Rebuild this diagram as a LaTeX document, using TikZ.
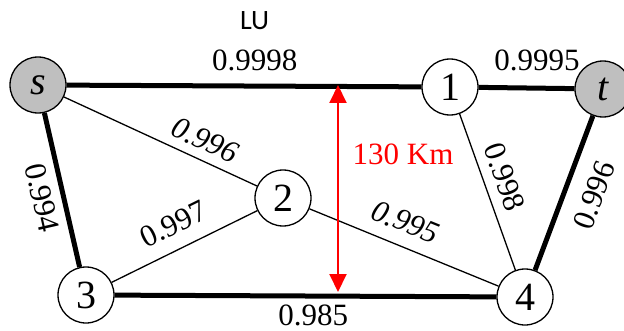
\documentclass[tikz,border=0pt]{standalone}
\usepackage{fontspec}
\setmainfont{Liberation Serif}
\newfontfamily\lufont{Carlito}
\usepackage{xcolor}
\definecolor{termgray}{HTML}{BFBFBF}
\definecolor{kmred}{HTML}{FF0000}
\usepackage{tikz}
\usetikzlibrary{
  positioning,
  arrows.meta
}

\begin{document}
\begin{tikzpicture}[
  x=1pt, y=1pt,
  vertex/.style={
    circle, draw, line width=1.3pt, minimum size=56pt, inner sep=0pt,
    font=\fontsize{40}{44}\selectfont, fill=white
  },
  term/.style={vertex, fill=termgray},
  link/.style={line width=5pt},
  thinlink/.style={line width=1.3pt},
  wlabel/.style={font=\fontsize{31}{36}\selectfont, inner sep=2pt},
  wlabelit/.style={wlabel, font=\fontsize{31}{36}\selectfont\itshape}
]
\useasboundingbox (0,0) rectangle (624,330);

% vertices
\node[term] (s) at (38,245) {\textit{s}};
\node[vertex] (n1) at (450,243) {1};
\node[term] (t) at (603,241) {\textit{t}};
\node[vertex] (n2) at (283,132) {2};
\node[vertex] (n3) at (86,35) {3};
\node[vertex] (n4) at (525,33) {4};

% thin links
\draw[thinlink] (s) -- node[wlabelit, sloped, pos=0.69, above=7pt] {0.996} (n2);
\draw[thinlink] (n3) -- node[wlabel, sloped, pos=0.5, above=12pt] {0.997} (n2);
\draw[thinlink] (n2) -- node[wlabelit, sloped, pos=0.46, above=11pt] {0.995} (n4);
\draw[thinlink] (n1) -- node[wlabel, sloped, pos=0.45, above=8pt] {0.998} (n4);

% thick links
\draw[link] (s) -- node[wlabel, pos=0.53, above=11pt] (w1) {0.9998} (n1);
\draw[link] (n1) -- node[wlabel, pos=0.61, above=13pt] {0.9995} (t);
\draw[link] (s) -- node[wlabel, sloped, pos=0.52, below=6pt] {0.994} (n3);
\draw[link] (n3) -- node[wlabel, pos=0.52, below=4pt] {0.985} (n4);
\draw[link] (n4) -- node[wlabel, sloped, pos=0.55, below=14pt] {0.996} (t);

\node[above=13pt of w1, font=\lufont\fontsize{28}{32}\selectfont, inner sep=2pt] (lu) {LU};

% distance marker
\coordinate (kmtop) at (338,245);
\coordinate (kmbot) at (338,38);
\draw[kmred, line width=2pt, {Triangle[width=17pt,length=18pt]}-{Triangle[width=17pt,length=18pt]}]
  (kmbot) -- (kmtop);
\node[text=kmred, font=\fontsize{31}{36}\selectfont, inner sep=2pt] (km) at (403,176) {130 Km};

\end{tikzpicture}
\end{document}
